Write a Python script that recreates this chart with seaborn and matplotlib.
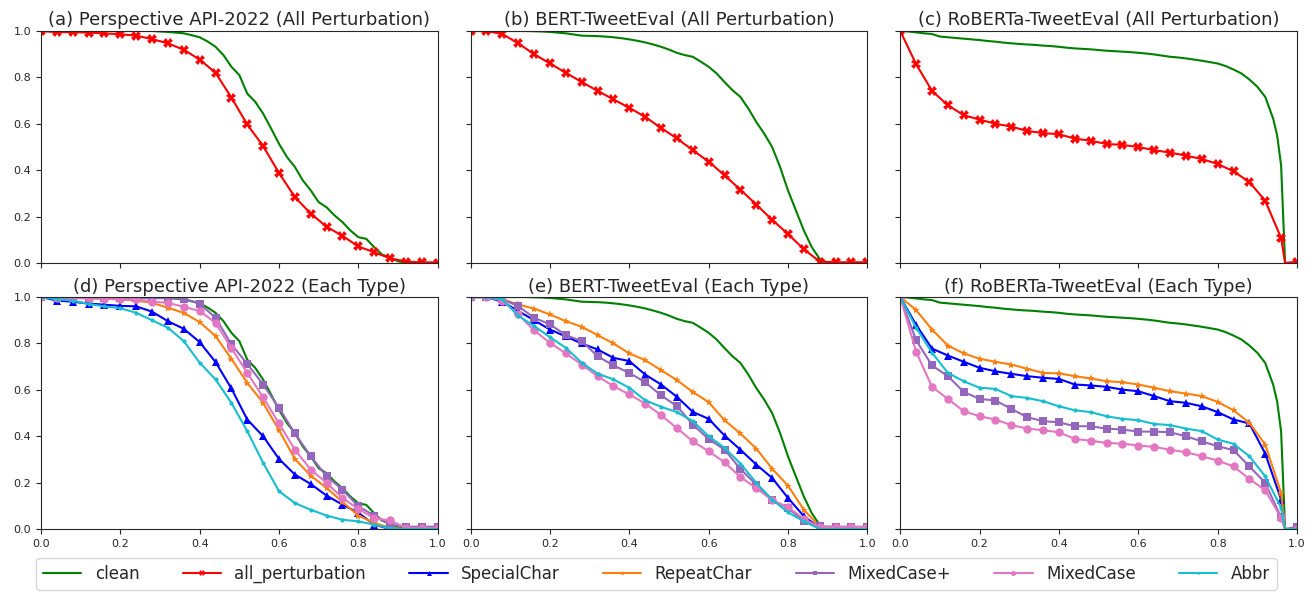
import numpy as np
import matplotlib
matplotlib.use("Agg")
import matplotlib.pyplot as plt
import seaborn as sns

# thresholds (x axis) sampled for the curves
x_clean = np.round(np.arange(0, 1.0001, 0.02), 2)
x_clean_roberta = np.concatenate([np.round(np.arange(0, 0.9401, 0.02), 2), [0.95, 0.96, 0.97, 1.0]])
x_pert = np.round(np.arange(0, 1.0001, 0.04), 2)
x_pert_roberta = np.concatenate([np.round(np.arange(0, 0.9601, 0.04), 2), [0.97, 1.0]])

# ---- Perspective API-2022 ----
persp_clean = [1.0] * 15 + [
    0.998, 0.996, 0.993, 0.99, 0.982, 0.973, 0.955, 0.932, 0.896, 0.846, 0.81, 0.73,
    0.695, 0.644, 0.58, 0.514, 0.457, 0.414, 0.356, 0.313, 0.262, 0.24, 0.205, 0.176,
    0.14, 0.111, 0.104, 0.068, 0.036, 0.024, 0.007, 0.002] + [0.0] * 4
persp_all = [1.0, 0.995, 0.995, 0.993, 0.99, 0.986, 0.98, 0.965, 0.947, 0.919, 0.877, 0.82, 0.713,
             0.597, 0.504, 0.388, 0.284, 0.213, 0.156, 0.117, 0.071, 0.046, 0.02, 0.006, 0.003, 0.002]
persp_special = [1.0, 0.985, 0.98, 0.972, 0.967, 0.962, 0.96, 0.937, 0.896, 0.863, 0.806, 0.72, 0.606,
                 0.472, 0.40, 0.302, 0.235, 0.194, 0.144, 0.105, 0.07, 0.019, 0.0, 0.0, 0.0, 0.0]
persp_repeat = [1.0, 0.998, 0.997, 0.995, 0.993, 0.99, 0.985, 0.975, 0.954, 0.932, 0.892, 0.832, 0.734,
                0.63, 0.544, 0.426, 0.302, 0.23, 0.177, 0.117, 0.058, 0.026, 0.005, 0.0, 0.0, 0.0]
persp_mixedp = [1.0, 0.995, 0.995, 0.995, 0.995, 0.995, 0.995, 0.995, 0.995, 0.993, 0.971, 0.911, 0.796,
                0.712, 0.623, 0.522, 0.412, 0.314, 0.227, 0.17, 0.098, 0.058, 0.019, 0.01, 0.01, 0.01]
persp_mixed = [1.0, 0.998, 0.997, 0.995, 0.993, 0.99, 0.99, 0.98, 0.975, 0.958, 0.94, 0.889, 0.78,
               0.673, 0.568, 0.455, 0.342, 0.256, 0.199, 0.134, 0.086, 0.047, 0.037, 0.005, 0.003, 0.003]
persp_abbr = [1.0, 0.99, 0.985, 0.97, 0.96, 0.952, 0.932, 0.90, 0.868, 0.81, 0.717, 0.645, 0.544,
              0.422, 0.285, 0.163, 0.112, 0.083, 0.058, 0.04, 0.033, 0.019, 0.003, 0.0, 0.0, 0.0]

# ---- BERT-TweetEval ----
bert_clean = [1.0] * 8 + [
    0.999, 0.998, 0.996, 0.993, 0.99, 0.985, 0.98, 0.979, 0.978, 0.976, 0.973, 0.969, 0.964,
    0.958, 0.951, 0.942, 0.932, 0.92, 0.906, 0.896, 0.889, 0.868, 0.846, 0.817, 0.78, 0.745,
    0.716, 0.666, 0.608, 0.558, 0.5, 0.414, 0.313, 0.226, 0.14, 0.068, 0.017] + [0.0] * 6
bert_all = [1.0, 1.0, 0.987, 0.947, 0.90, 0.86, 0.82, 0.78, 0.742, 0.705, 0.669, 0.63, 0.582,
            0.537, 0.486, 0.437, 0.378, 0.316, 0.252, 0.186, 0.125, 0.059, 0.006, 0.003, 0.003, 0.003]
bert_special = [1.0, 1.0, 0.98, 0.94, 0.90, 0.86, 0.83, 0.80, 0.774, 0.738, 0.724, 0.666, 0.623,
                0.57, 0.505, 0.475, 0.403, 0.342, 0.278, 0.22, 0.134, 0.055, 0.005, 0.0, 0.0, 0.0]
bert_repeat = [1.0, 1.0, 0.99, 0.968, 0.95, 0.925, 0.896, 0.872, 0.836, 0.80, 0.757, 0.728, 0.685,
               0.642, 0.591, 0.547, 0.469, 0.412, 0.347, 0.26, 0.187, 0.083, 0.01, 0.0, 0.0, 0.0]
bert_mixedp = [1.0, 1.0, 0.99, 0.961, 0.911, 0.882, 0.836, 0.81, 0.745, 0.705, 0.673, 0.633, 0.576,
               0.53, 0.45, 0.388, 0.342, 0.259, 0.191, 0.124, 0.091, 0.033, 0.012, 0.01, 0.01, 0.01]
bert_mixed = [1.0, 1.0, 0.985, 0.925, 0.856, 0.803, 0.757, 0.709, 0.659, 0.616, 0.58, 0.541, 0.491,
              0.435, 0.378, 0.335, 0.288, 0.224, 0.177, 0.124, 0.095, 0.043, 0.009, 0.008, 0.008, 0.008]
bert_abbr = [1.0, 1.0, 0.99, 0.92, 0.875, 0.827, 0.781, 0.717, 0.67, 0.645, 0.609, 0.555, 0.527,
             0.504, 0.465, 0.40, 0.35, 0.282, 0.199, 0.127, 0.072, 0.033, 0.0, 0.0, 0.0, 0.0]

# ---- RoBERTa-TweetEval ----
roberta_clean = [
    1.0, 0.998, 0.994, 0.99, 0.987, 0.976, 0.973, 0.97, 0.967, 0.964, 0.961, 0.957, 0.954,
    0.95, 0.947, 0.944, 0.942, 0.94, 0.937, 0.935, 0.932, 0.928, 0.925, 0.923, 0.921, 0.918,
    0.915, 0.913, 0.911, 0.909, 0.906, 0.903, 0.899, 0.894, 0.889, 0.886, 0.882, 0.877, 0.872,
    0.866, 0.86, 0.849, 0.834, 0.817, 0.791, 0.76, 0.716, 0.622, 0.55, 0.42, 0.0, 0.0]
roberta_all = [1.0, 0.857, 0.742, 0.68, 0.637, 0.618, 0.60, 0.588, 0.569, 0.56, 0.555, 0.536, 0.527,
               0.513, 0.509, 0.50, 0.486, 0.476, 0.463, 0.448, 0.427, 0.395, 0.349, 0.268, 0.108, 0.0, 0.005]
roberta_special = [1.0, 0.88, 0.778, 0.748, 0.721, 0.695, 0.68, 0.669, 0.659, 0.652, 0.647, 0.623, 0.619,
                   0.613, 0.601, 0.594, 0.573, 0.551, 0.544, 0.529, 0.504, 0.472, 0.455, 0.325, 0.127, 0.0, 0.0]
roberta_repeat = [1.0, 0.944, 0.86, 0.791, 0.757, 0.734, 0.721, 0.709, 0.691, 0.673, 0.671, 0.659, 0.649,
                  0.637, 0.633, 0.623, 0.609, 0.594, 0.584, 0.573, 0.548, 0.512, 0.458, 0.364, 0.155, 0.0, 0.0]
roberta_mixedp = [1.0, 0.814, 0.705, 0.659, 0.591, 0.561, 0.554, 0.518, 0.482, 0.465, 0.46, 0.443, 0.443,
                  0.433, 0.429, 0.42, 0.42, 0.417, 0.40, 0.378, 0.357, 0.34, 0.27, 0.199, 0.05, 0.0, 0.01]
roberta_mixed = [1.0, 0.764, 0.613, 0.561, 0.508, 0.486, 0.472, 0.448, 0.433, 0.426, 0.417, 0.388, 0.381,
                 0.371, 0.368, 0.36, 0.354, 0.342, 0.331, 0.314, 0.295, 0.27, 0.216, 0.167, 0.047, 0.0, 0.0]
roberta_abbr = [1.0, 0.868, 0.76, 0.673, 0.637, 0.609, 0.604, 0.573, 0.565, 0.551, 0.529, 0.512, 0.504,
                0.486, 0.475, 0.469, 0.453, 0.448, 0.433, 0.422, 0.386, 0.367, 0.314, 0.227, 0.091, 0.0, 0.0]

models = ["Perspective API-2022", "BERT-TweetEval", "RoBERTa-TweetEval"]
letters_top = ["(a)", "(b)", "(c)"]
letters_bottom = ["(d)", "(e)", "(f)"]

styles = {
    "clean": dict(color="green", marker=None),
    "all_perturbation": dict(color="red", marker="X", markersize=7),
    "SpecialChar": dict(color="blue", marker="^", markersize=6),
    "RepeatChar": dict(color="tab:orange", marker="*", markersize=6),
    "MixedCase+": dict(color="tab:purple", marker="s", markersize=6),
    "MixedCase": dict(color="tab:pink", marker="o", markersize=6),
    "Abbr": dict(color="tab:cyan", marker=".", markersize=6),
}

data = {
    "Perspective API-2022": dict(
        xc=x_clean, xp=x_pert, clean=persp_clean, all_perturbation=persp_all,
        SpecialChar=persp_special, RepeatChar=persp_repeat, **{"MixedCase+": persp_mixedp},
        MixedCase=persp_mixed, Abbr=persp_abbr),
    "BERT-TweetEval": dict(
        xc=x_clean, xp=x_pert, clean=bert_clean, all_perturbation=bert_all,
        SpecialChar=bert_special, RepeatChar=bert_repeat, **{"MixedCase+": bert_mixedp},
        MixedCase=bert_mixed, Abbr=bert_abbr),
    "RoBERTa-TweetEval": dict(
        xc=x_clean_roberta, xp=x_pert_roberta, clean=roberta_clean, all_perturbation=roberta_all,
        SpecialChar=roberta_special, RepeatChar=roberta_repeat, **{"MixedCase+": roberta_mixedp},
        MixedCase=roberta_mixed, Abbr=roberta_abbr),
}
types = ["SpecialChar", "RepeatChar", "MixedCase+", "MixedCase", "Abbr"]

sns.set_style("ticks")
plt.rcParams["font.family"] = ["DejaVu Sans"]

fig, axes = plt.subplots(2, 3, figsize=(13.13, 5.93), dpi=100, sharex=True, sharey=True)
fig.subplots_adjust(left=0.0312, right=0.9878, top=0.9477, bottom=0.1079, wspace=0.083, hspace=0.147)


def draw(ax, x, y, name):
    st = styles[name]
    kw = dict(color=st["color"], linewidth=1.5, label=name, legend=False, ax=ax)
    if st["marker"]:
        # markers only on the 0.04 grid
        marks = [i for i, v in enumerate(x) if abs(v * 25 - round(v * 25)) < 1e-6]
        kw.update(marker=st["marker"], markersize=st["markersize"], markevery=marks,
                  markeredgewidth=0)
    sns.lineplot(x=list(x), y=list(y), **kw)


for j, m in enumerate(models):
    d = data[m]
    ax = axes[0, j]
    draw(ax, d["xc"], d["clean"], "clean")
    draw(ax, d["xp"], d["all_perturbation"], "all_perturbation")
    ax.set_title(f"{letters_top[j]} {m} (All Perturbation)", fontsize=13, pad=4)

    ax = axes[1, j]
    draw(ax, d["xc"], d["clean"], "clean")
    for t in types:
        draw(ax, d["xp"], d[t], t)
    ax.set_title(f"{letters_bottom[j]} {m} (Each Type)", fontsize=13, pad=4)

for ax in axes.flat:
    ax.set_xlim(0, 1)
    ax.set_ylim(0, 1)
    ax.set_xlabel("")
    ax.set_ylabel("")
    ax.set_xticks([0, 0.2, 0.4, 0.6, 0.8, 1.0])
    ax.set_yticks([0, 0.2, 0.4, 0.6, 0.8, 1.0])
    ax.tick_params(labelsize=8, length=3.5)

h1, l1 = axes[0, 0].get_legend_handles_labels()
h2, l2 = axes[1, 2].get_legend_handles_labels()
handles = h1 + h2[1:]
labels = l1 + l2[1:]
fig.legend(handles, labels, loc="lower center", bbox_to_anchor=(0.5, 0.0), ncol=7,
           fontsize=12, frameon=True, handlelength=2.3, columnspacing=2.6, borderaxespad=0.2,
           markerscale=0.6)

fig.savefig("out.png", dpi=100)
